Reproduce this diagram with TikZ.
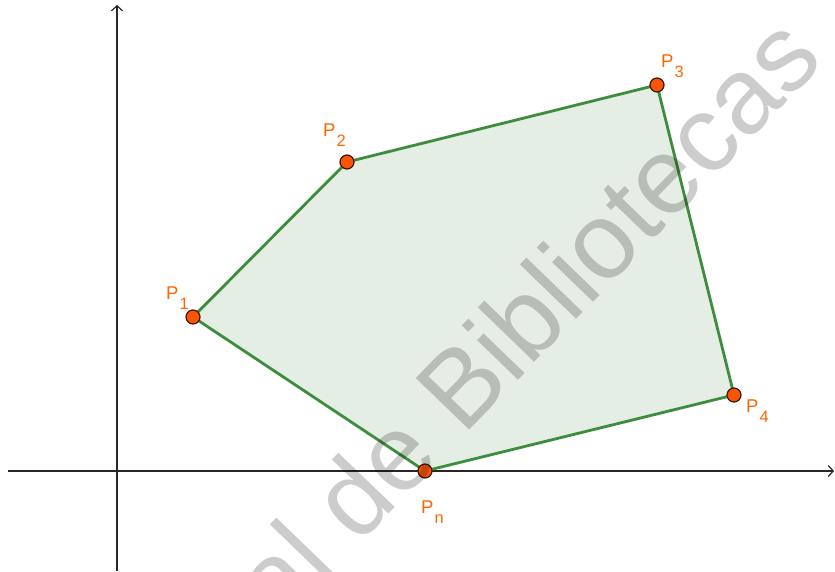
\documentclass[tikz,border=0pt]{standalone}
\usepackage{fontspec}
\setmainfont{Liberation Sans}
\usetikzlibrary{arrows.meta}
\definecolor{ptorange}{RGB}{250,85,5}
\definecolor{laborange}{RGB}{255,102,0}
\definecolor{polygreen}{RGB}{62,140,62}
\definecolor{polyfill}{RGB}{228,238,228}
\newcommand\plab[1]{P\hspace{1pt}\raisebox{-10pt}{\fontsize{16.5}{16.5}\selectfont #1}}
\tikzset{
  axis/.style={line width=1.3pt, draw=black!85, -{Straight Barb[length=5pt,width=11pt,line width=1.2pt]}},
  polyedge/.style={draw=polygreen, line width=2.8pt, line join=round},
  vertex/.style={circle, fill=ptorange, draw=black!75!ptorange, line width=1.2pt, minimum size=14pt, inner sep=0pt},
  ptlabel/.style={text=laborange, font=\fontsize{18.5}{18.5}\selectfont, inner sep=0pt, anchor=base west},
  watermark/.style={text=black, opacity=0.2, font=\fontsize{108}{108}\selectfont, inner sep=0pt, rotate=46}
}
\begin{document}
\begin{tikzpicture}[x=1pt,y=1pt]
\useasboundingbox (0,0) rectangle (835,571);
\fill[white] (0,0) rectangle (835,571);
% axes
\coordinate (yb) at (117,0);
\coordinate (yt) at (117,566);
\coordinate (xl) at (8,100);
\coordinate (xr) at (834,100);
\draw[axis] (xl) -- (xr);
\draw[axis] (yb) -- (yt);
% vertices
\coordinate (c1) at (193,254);
\coordinate (c2) at (347,409);
\coordinate (c3) at (657,486);
\coordinate (c4) at (734,176);
\coordinate (cn) at (425,100);
\fill[polyfill] (c1) -- (c2) -- (c3) -- (c4) -- (cn) -- cycle;
\draw[polyedge] (c1) -- (c2) -- (c3) -- (c4) -- (cn) -- cycle;
\node[vertex] (p1) at (c1) {};
\node[vertex] (p2) at (c2) {};
\node[vertex] (p3) at (c3) {};
\node[vertex] (p4) at (c4) {};
\node[vertex] (pn) at (cn) {};
% labels
\node[ptlabel] (l1) at (166,271) {\plab{1}};
\node[ptlabel] (l2) at (323,434) {\plab{2}};
\node[ptlabel] (l3) at (661,503) {\plab{3}};
\node[ptlabel] (l4) at (746,159) {\plab{4}};
\node[ptlabel] (ln) at (421,58) {\plab{n}};
% watermark
\begin{scope}
\clip (0,0) rectangle (835,571);
\node[watermark, anchor=base west] (wa) at (463,134) {Bibliotecas};
\node[watermark, anchor=base east] (wb) at (wa.base west) {al de\kern0.278em};
\end{scope}
\end{tikzpicture}
\end{document}
